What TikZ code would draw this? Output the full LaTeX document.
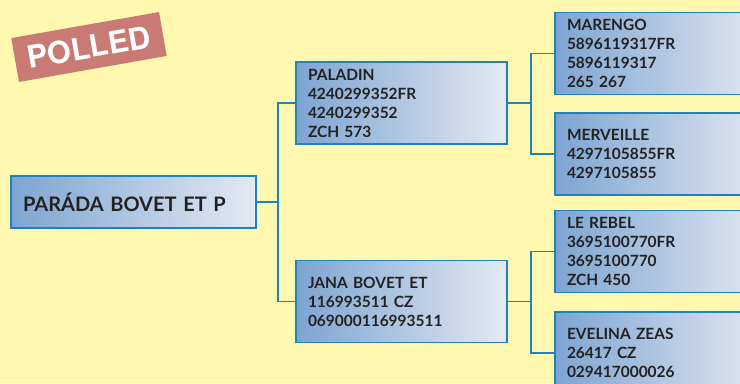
\documentclass[tikz,border=0pt]{standalone}
\usepackage{fontspec}
\setmainfont{Lato}
\newfontfamily\pollfont{TeX Gyre Heros}
\usepackage{tikz}

\definecolor{bgyellow}{HTML}{FFF8AE}
\definecolor{boxline}{HTML}{1F80C2}
\definecolor{boxleft}{HTML}{7DA4D1}
\definecolor{boxright}{HTML}{E4EAF3}
\definecolor{pollred}{HTML}{C97A74}
\definecolor{textdark}{HTML}{222222}

\begin{document}
\begin{tikzpicture}[x=0.75pt,y=-0.75pt]

\tikzset{horse/.style={
    draw=boxline, line width=1.1pt, left color=boxleft, right color=boxright,
    minimum height=#1, text width=140.25pt, inner xsep=9pt, inner ysep=0pt,
    align=left, anchor=center, text=textdark,
    font=\fontsize{11.6pt}{14.25pt}\selectfont\bfseries
  }, horse/.default=61.5pt,
  link/.style={draw=boxline, line width=1.1pt}
}

\useasboundingbox (0,0) rectangle (740,383);
\fill[bgyellow] (0,0) rectangle (740,383);
\clip (0,0) rectangle (740,383);

% badge
\node[fill=pollred, rotate=10, minimum width=112.5pt, minimum height=33.4pt,
  text=white, font=\pollfont\fontsize{23pt}{23pt}\selectfont\bfseries] (polled) at (89,47) {POLLED};

% animal itself
\node[horse=39pt, text width=165.75pt, font=\fontsize{15pt}{18pt}\selectfont\bfseries] (root) at (133.5,202) {PARÁDA BOVET ET P};

% parents
\node[horse] (sire) at (401.5,103) {PALADIN\\4240299352FR\\4240299352\\ZCH 573};
\node[horse] (dam) at (401.5,301.5) {JANA BOVET ET\\116993511 CZ\\069000116993511};

% grandparents
\node[horse] (ss) at (660.5,53.5) {MARENGO\\5896119317FR\\5896119317\\265 267};
\node[horse] (sd) at (660.5,154) {MERVEILLE\\4297105855FR\\4297105855};
\node[horse] (ds) at (660.5,251.5) {LE REBEL\\3695100770FR\\3695100770\\ZCH 450};
\node[horse] (dd) at (660.5,353) {EVELINA ZEAS\\26417 CZ\\029417000026};

\coordinate (rootfork) at (278,202);
\coordinate (sirefork) at (531,103);
\coordinate (damfork) at (531,301.5);

\draw[link] (root.east) -- (rootfork);
\draw[link] (sire.west) -| (rootfork) |- (dam.west);
\draw[link] (sire.east) -- (sirefork);
\draw[link] (ss.west) -| (sirefork) |- (sd.west);
\draw[link] (dam.east) -- (damfork);
\draw[link] (ds.west) -| (damfork) |- (dd.west);

\end{tikzpicture}
\end{document}
